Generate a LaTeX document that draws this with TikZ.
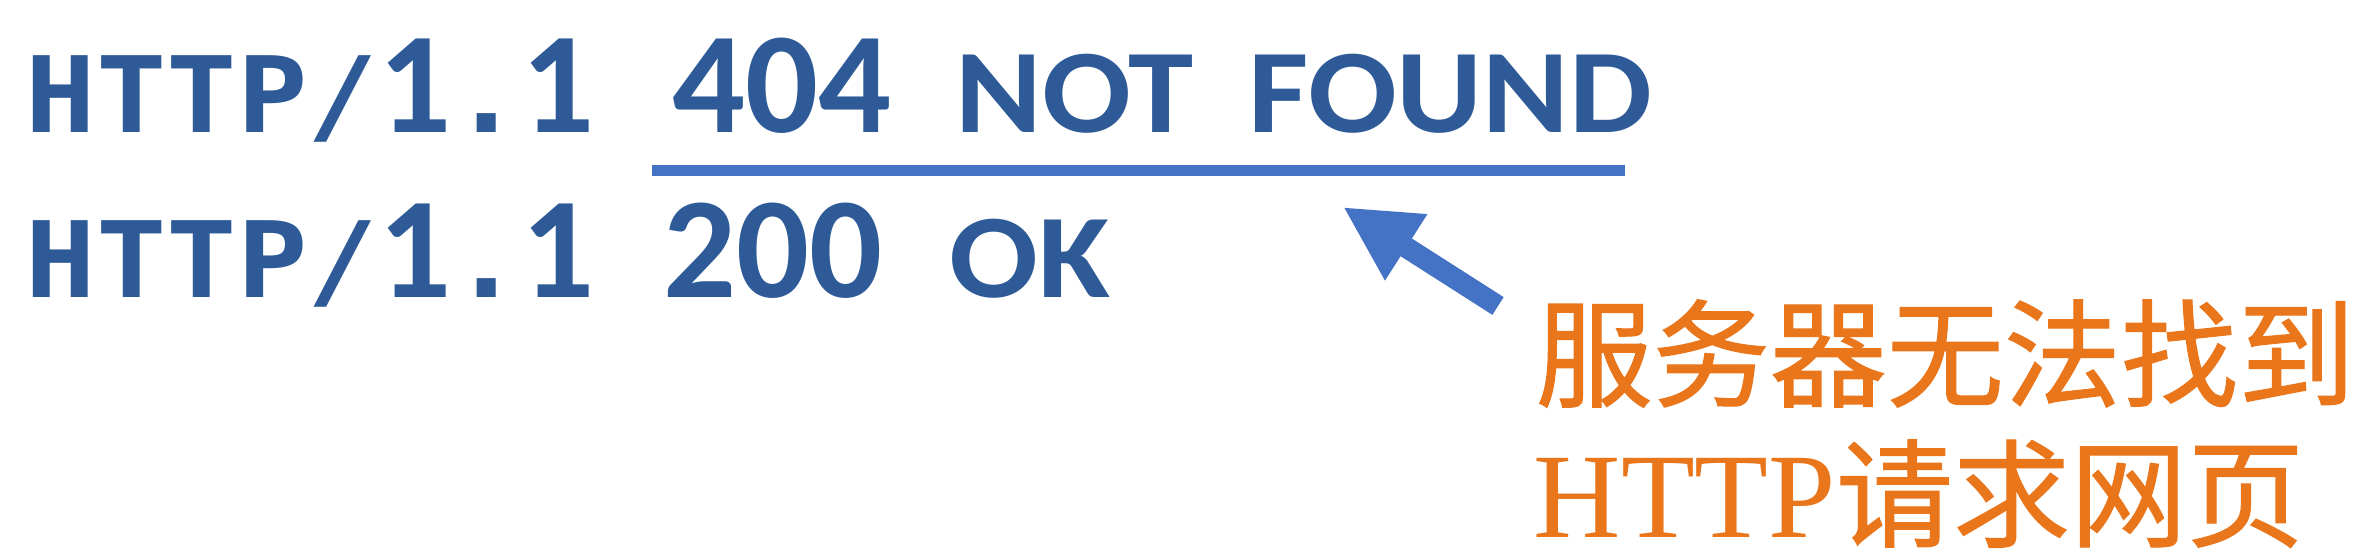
\documentclass[tikz,border=0pt]{standalone}
\usepackage{fontspec}
\usepackage{tikz}
\usetikzlibrary{arrows.meta}
\newfontfamily\httpfont[FakeStretch=1.11]{DejaVu Sans Mono Bold}
\newfontfamily\numfont{Carlito Bold}
\newfontfamily\reasonfont[FakeStretch=1.1]{Carlito Bold}
\newfontfamily\cjk[FakeBold=1]{Noto Sans CJK SC}
\newfontfamily\latinserif{Liberation Serif}
\definecolor{textblue}{RGB}{46,91,152}
\definecolor{lineblue}{RGB}{68,114,196}
\definecolor{noteorange}{RGB}{234,118,28}
\newcommand{\ltr}{\fontsize{30}{36}\selectfont\httpfont}
\newcommand{\dgt}{\fontsize{41}{48}\selectfont\numfont}
\newcommand{\rsn}{\fontsize{34}{40}\selectfont\reasonfont}

\begin{document}
\begin{tikzpicture}[
    status/.style={anchor=base west, inner sep=0pt, text=textblue},
    note/.style={anchor=base west, inner sep=0pt, text=noteorange, font=\fontsize{33.3}{40}\selectfont\cjk}]
    \useasboundingbox[fill=white] (0,0) rectangle (23.62,5.58);
    % status lines
    \node[status] (proto1) at (0.25,4.25) {\ltr HTTP/{\dgt 1}.{\dgt 1}};
    \node[status] (code1) at (6.72,4.25) {\dgt 404};
    \node[status] (not1) at (9.55,4.25) {\rsn NOT};
    \node[status] (found1) at (12.48,4.25) {\rsn FOUND};
    \node[status] (proto2) at (0.25,2.60) {\ltr HTTP/{\dgt 1}.{\dgt 1}};
    \node[status] (code2) at (6.63,2.60) {\dgt 200};
    \node[status] (ok2) at (9.49,2.60) {\rsn OK};
    % underline under 404 NOT FOUND
    \coordinate (ulstart) at (6.52,3.87);
    \coordinate (ulend) at (16.25,3.87);
    \draw[lineblue, line width=0.11cm] (ulstart) -- (ulend);
    % note and pointer
    \node[note] (note1) at (15.35,1.60) {服务器无法找到};
    \node[note] (note2) at (15.33,0.20) {{\latinserif\fontsize{34.4}{40}\selectfont HTTP}请求网页};
    \coordinate (tail) at (14.98,2.52);
    \coordinate (tip) at (13.43,3.51);
    \draw[lineblue, line width=0.21cm, -{Triangle[length=0.75cm, width=0.73cm]}] (tail) -- (tip);
\end{tikzpicture}
\end{document}
